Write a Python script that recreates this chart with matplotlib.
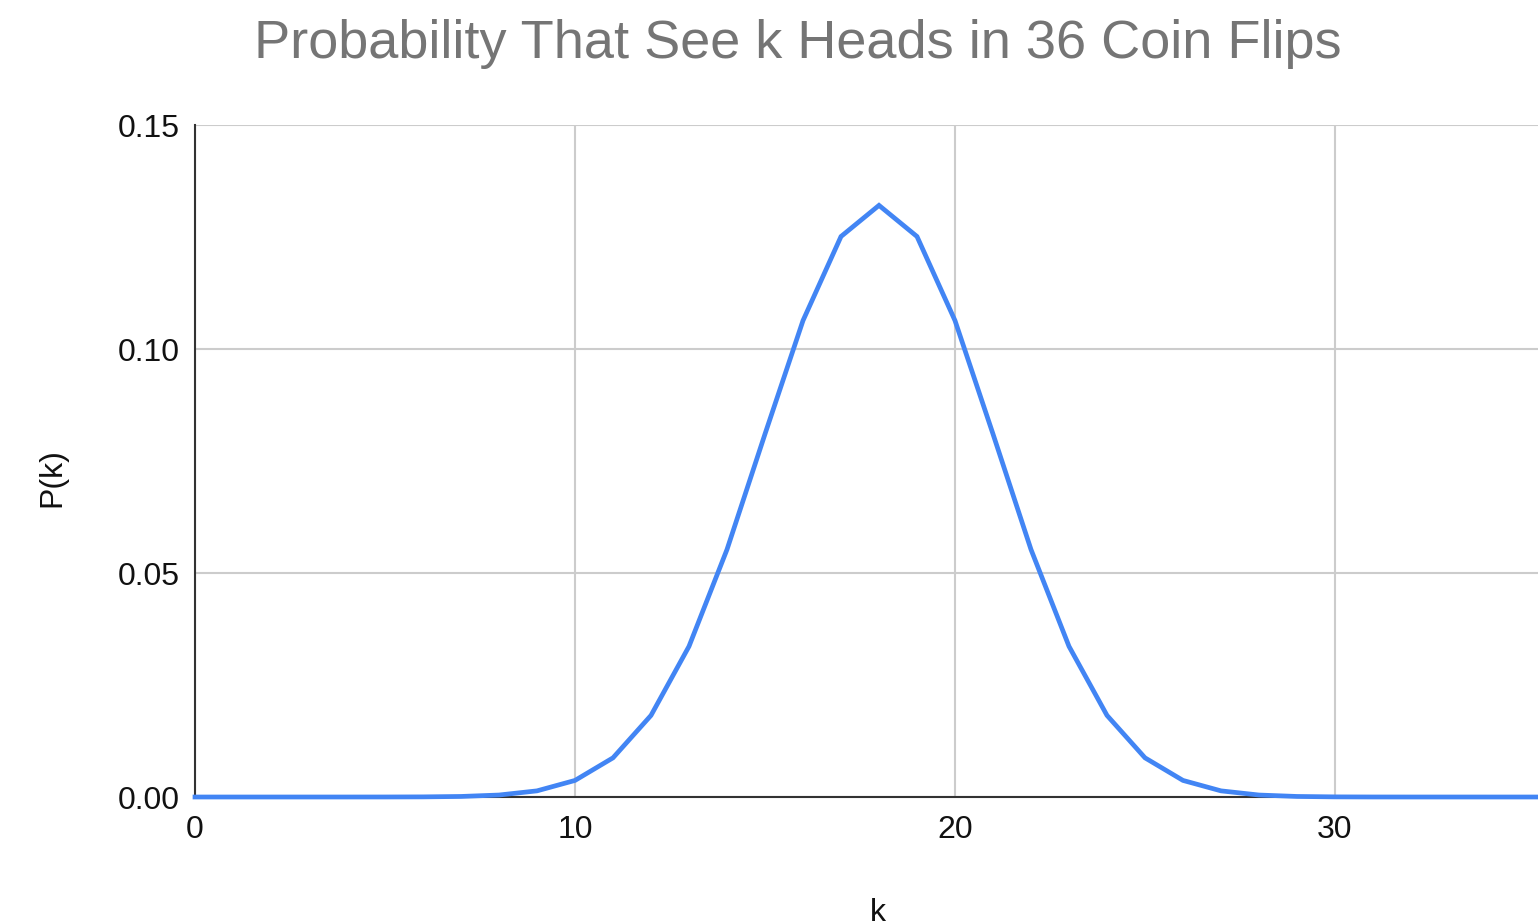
import matplotlib
matplotlib.use("Agg")
import matplotlib.pyplot as plt

plt.rcParams['font.family'] = ['Liberation Sans', 'DejaVu Sans']

k_values = list(range(0, 37))
p_values = [
    1.46e-11, 5.24e-10, 9.17e-09, 1.04e-07, 8.57e-07, 5.49e-06, 2.83e-05, 1.21e-04,
    4.40e-04, 1.370e-03, 3.699e-03, 8.743e-03, 1.8214e-02, 3.3627e-02, 5.5243e-02,
    8.1024e-02, 1.06344e-01, 1.25111e-01, 1.32061e-01, 1.25111e-01, 1.06344e-01,
    8.1024e-02, 5.5243e-02, 3.3627e-02, 1.8214e-02, 8.743e-03, 3.699e-03, 1.370e-03,
    4.40e-04, 1.21e-04, 2.83e-05, 5.49e-06, 8.57e-07, 1.04e-07, 9.17e-09, 5.24e-10,
    1.46e-11,
]
x_ticks = [0, 10, 20, 30]
y_ticks = [0.00, 0.05, 0.10, 0.15]
y_tick_labels = ["0.00", "0.05", "0.10", "0.15"]

W, H = 1538, 921
fig = plt.figure(figsize=(W / 100, H / 100), dpi=100)
left_px, right_px, top_px, bottom_px = 195, 195 + 38 * 36, 125, 797
ax = fig.add_axes([left_px / W, (H - bottom_px) / H,
                   (right_px - left_px) / W, (bottom_px - top_px) / H])

ax.plot(k_values, p_values, color='#4285f4', lw=3.4, solid_joinstyle='miter', zorder=3,
        clip_on=False)
ax.set_xlim(0, 36)
ax.set_ylim(0, 0.15)
ax.set_xticks(x_ticks)
ax.set_yticks(y_ticks)
ax.set_yticklabels(y_tick_labels)
ax.grid(True, color='#cccccc', lw=1.5, zorder=0)
ax.set_axisbelow(True)
for s in ['top', 'right']:
    ax.spines[s].set_visible(False)
for s in ['left', 'bottom']:
    ax.spines[s].set_color('#333333')
    ax.spines[s].set_linewidth(1.5)
    ax.spines[s].set_zorder(2.5)
ax.tick_params(length=0, labelsize=23, colors='#111111', pad=11)
ax.tick_params(axis='x', pad=13)

fig.text(798 / W, 1 - 44 / H, "Probability That See k Heads in 36 Coin Flips",
         ha='center', va='center', fontsize=39, color='#757575')
fig.text(52 / W, 1 - 478 / H, "P(k)", rotation=90, ha='center', va='center',
         fontsize=23, color='#111111')
fig.text(878 / W, 0.5 / H, "k", ha='center', va='baseline', fontsize=23, color='#111111')

fig.savefig("out.png", dpi=100)
